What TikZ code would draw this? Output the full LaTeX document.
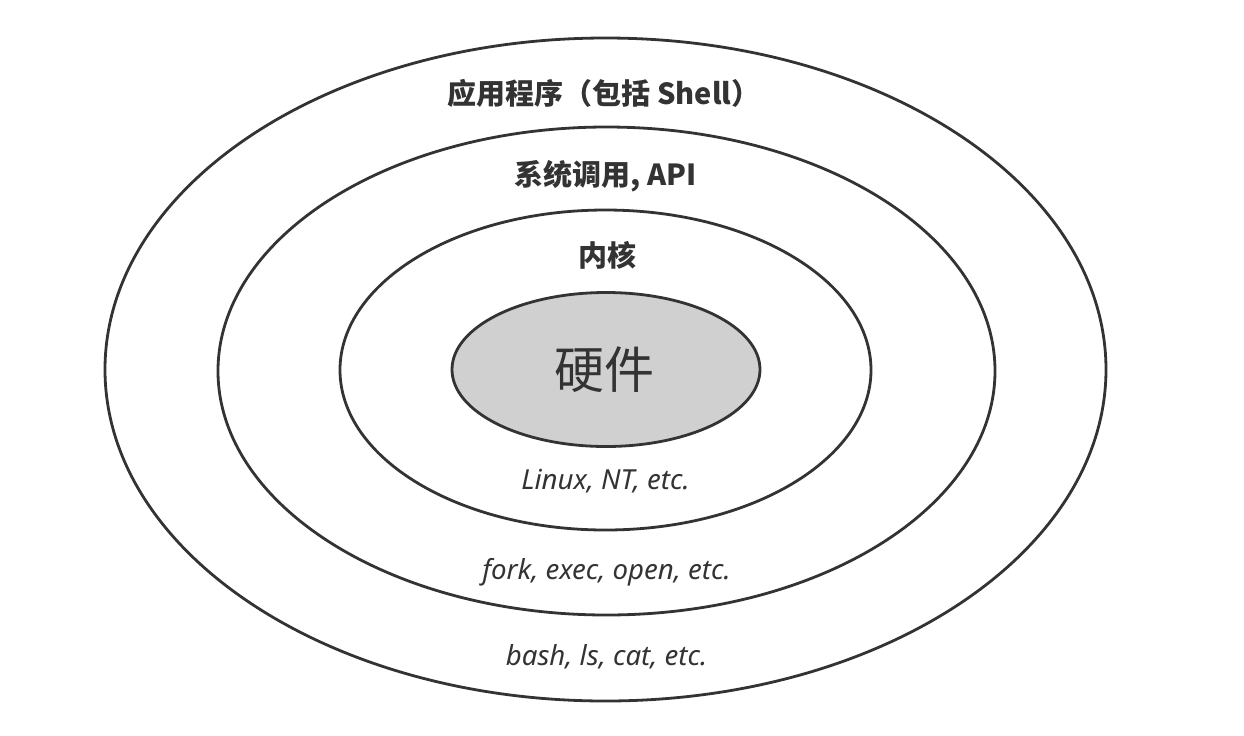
\documentclass[tikz,border=0pt]{standalone}
\usepackage{fontspec}
\newfontfamily\cjk{Noto Sans CJK SC}
\newfontfamily\latinit{Noto Sans}
\definecolor{inkgray}{HTML}{333333}
\definecolor{hwgray}{HTML}{D0D0D0}
\tikzset{
  ring/.style={draw=inkgray, line width=1.4pt},
  layertitle/.style={text=inkgray, font=\cjk\bfseries\fontsize{14.5}{16}\selectfont, inner sep=0pt},
  layernote/.style={text=inkgray, font=\latinit\itshape\fontsize{13.8}{15}\selectfont, inner sep=0pt},
}
\begin{document}
\begin{tikzpicture}[x=0.5pt, y=-0.5pt]

    \useasboundingbox (0,0) rectangle (1244,735);

    % Layers, outside in
    \draw[ring] (605.5,369.5) ellipse [x radius=500.5, y radius=331.5];
    \draw[ring] (606.5,371) ellipse [x radius=388.5, y radius=244];
    \draw[ring] (605.5,370) ellipse [x radius=265.5, y radius=160];
    \draw[ring, fill=hwgray] (606,369.5) ellipse [x radius=154, y radius=77];

    % Layer names
    \node[layertitle] (apps) at (604,93) {应用程序（包括 Shell）};
    \node[layertitle] (syscall) at (605.5,176) {系统调用, API};
    \node[layertitle] (kernel) at (607,255) {内核};
    \node[text=inkgray, font=\cjk\fontsize{25}{29}\selectfont] (hw) at (604,370) {硬件};

    % Examples
    \node[layernote] (kernelex) at (605.5,481) {Linux, NT, etc.};
    \node[layernote] (syscallex) at (606.5,572) {fork, exec, open, etc.};
    \node[layernote] (appsex) at (606.5,657) {bash, ls, cat, etc.};

\end{tikzpicture}
\end{document}
